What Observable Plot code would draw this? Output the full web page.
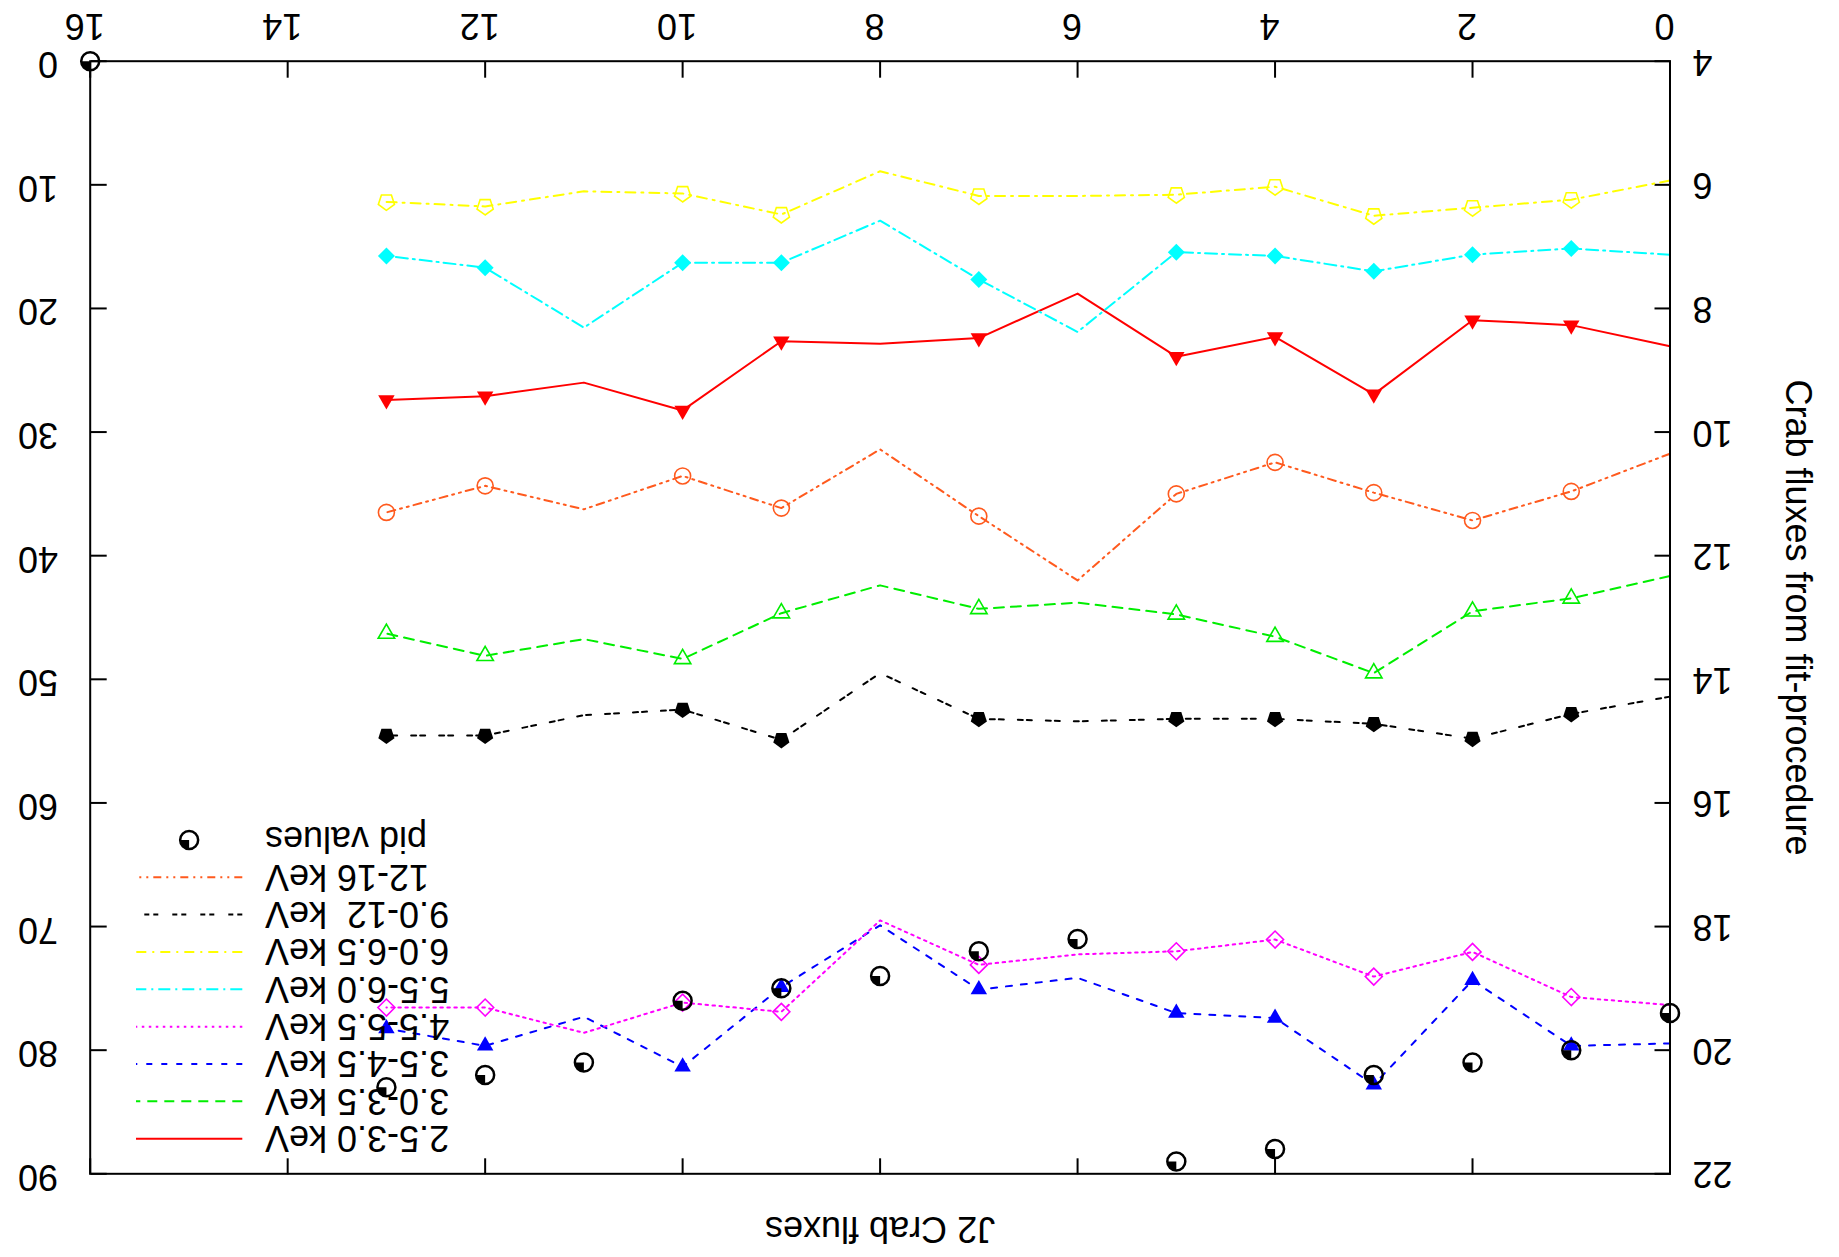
<!DOCTYPE html>
<html><head><meta charset="utf-8">
<script src="https://cdn.jsdelivr.net/npm/d3@7"></script>
<script src="https://cdn.jsdelivr.net/npm/@observablehq/plot@0.6"></script>
<style>
html,body{margin:0;padding:0;background:#fff;overflow:hidden;}
#wrap{width:1839px;height:1257px;transform:rotate(180deg);transform-origin:50% 50%;background:#fff;}
</style></head><body><div id="wrap"></div>
<script>
// ---------- data ----------
const xValues = [0,1,2,3,4,5,6,7,8,9,10,11,12,13];
const markedX = [1,2,3,4,5,7,9,10,12,13];
const flux_2_5_3_0 = [8.61,8.27,8.19,9.39,8.46,8.78,7.76,8.48,8.57,8.53,9.65,9.20,9.42,9.48];
const flux_3_0_3_5 = [12.33,12.69,12.90,13.90,13.31,12.95,12.76,12.86,12.48,12.93,13.67,13.35,13.62,13.26];
const flux_3_5_4_5 = [19.89,19.93,18.87,20.56,19.48,19.40,18.83,19.02,17.98,18.98,20.27,19.46,19.93,19.65];
const flux_4_5_5_5 = [19.27,19.14,18.41,18.81,18.21,18.40,18.45,18.62,17.90,19.38,19.23,19.72,19.31,19.31];
const flux_5_5_6_0 = [7.13,7.03,7.13,7.40,7.15,7.09,8.38,7.53,6.58,7.26,7.26,8.31,7.34,7.15];
const flux_6_0_6_5 = [5.93,6.24,6.37,6.50,6.03,6.16,6.18,6.18,5.78,6.48,6.14,6.105,6.35,6.276];
const flux_9_0_12 = [14.28,14.56,14.96,14.72,14.64,14.64,14.68,14.64,13.90,14.98,14.49,14.58,14.91,14.91];
const flux_12_16 = [10.35,10.96,11.43,10.98,10.49,11.00,12.40,11.36,10.28,11.23,10.71,11.25,10.87,11.30];
const pidX = [0,1,2,3,4,5,6,7,8,9,10,11,12,13,16];
const pidValues = [77,80,81,82,88,89,71,72,74,75,76,81,82,83,0];
const seriesLabels = ["2.5-3.0 keV","3.0-3.5 keV","3.5-4.5 keV","4.5-5.5 keV","5.5-6.0 keV","6.0-6.5 keV","9.0-12  keV","12-16 keV"];
const pidLabel = "pid values";
const xTicks = [0,2,4,6,8,10,12,14,16];
const y1Ticks = [4,6,8,10,12,14,16,18,20,22];
const y2Ticks = [0,10,20,30,40,50,60,70,80,90];
const X_DOMAIN = [0,16], Y1_DOMAIN = [4,22], Y2_DOMAIN = [0,90];
const y1Title = "Crab fluxes from fit-procedure";
const topTitle = "J2 Crab fluxes";

// ---------- symbols ----------
function poly(angles){
  return {draw(ctx, size){
    const R = Math.sqrt(size/Math.PI);
    angles.forEach((a,i)=>{const px=R*Math.cos(a), py=R*Math.sin(a); i?ctx.lineTo(px,py):ctx.moveTo(px,py);});
    ctx.closePath();
  }};
}
const deg = Math.PI/180;
const triUp = poly([-90,30,150].map(a=>a*deg));
const triDown = poly([90,210,330].map(a=>a*deg));
const pentagon = poly([-90,-18,54,126,198].map(a=>a*deg));
const diamond = poly([-90,0,90,180].map(a=>a*deg));
const quadrant = {draw(ctx,size){const R=Math.sqrt(size/Math.PI); ctx.moveTo(0,0); ctx.lineTo(0,-R); ctx.arc(0,0,R,-Math.PI/2,0,false); ctx.closePath();}};

// ---------- styles ----------
const seriesData = [flux_2_5_3_0,flux_3_0_3_5,flux_3_5_4_5,flux_4_5_5_5,flux_5_5_6_0,flux_6_0_6_5,flux_9_0_12,flux_12_16];
const styles = [
  {color:"#ff0000", dash:null,          symbol:triUp,    filled:true,  r:9.5},
  {color:"#00ee00", dash:"10,7",        symbol:triDown,  filled:false, r:9.5},
  {color:"#0000ff", dash:"6,9",         symbol:triDown,  filled:true,  r:9.5},
  {color:"#ff00ff", dash:"2.5,4.5",     symbol:diamond,  filled:false, r:8.5},
  {color:"#00ffff", dash:"12,5,2,5",    symbol:diamond,  filled:true,  r:8.5},
  {color:"#ffff00", dash:"10,6,2,6",    symbol:pentagon, filled:false, r:8.5},
  {color:"#000000", dash:"5,4,5,14",    symbol:pentagon, filled:true,  r:8.5},
  {color:"#ff5a1e", dash:"8,5,2,5,2,5", symbol:"circle", filled:false, r:8}
];

const W=1839, H=1257, mL=168.5, mR=90.7, mT=82.7, mB=61.7;
const toY1 = v => Y1_DOMAIN[0] + (v-Y2_DOMAIN[0])/(Y2_DOMAIN[1]-Y2_DOMAIN[0])*(Y1_DOMAIN[1]-Y1_DOMAIN[0]);
const innerW = W-mL-mR, innerH = H-mT-mB, TICK = 16, FS = 36;
const FONT = "'Liberation Sans', Arial, Helvetica, sans-serif";

const marks = [];
// ticks (inward)
marks.push(Plot.ruleX(xTicks, {x:d=>d, insetTop: innerH-TICK, stroke:"black", strokeWidth:2}));
marks.push(Plot.ruleX(xTicks, {x:d=>d, insetBottom: innerH-TICK, stroke:"black", strokeWidth:2}));
marks.push(Plot.ruleY(y1Ticks, {y:d=>d, insetRight: innerW-TICK, stroke:"black", strokeWidth:2}));
marks.push(Plot.ruleY(y2Ticks, {y:d=>toY1(d), insetLeft: innerW-TICK, stroke:"black", strokeWidth:2}));
// series
seriesData.forEach((vals, k) => {
  const s = styles[k];
  marks.push(Plot.line(xValues.map((x,i)=>({x, y:vals[i]})), {x:"x", y:"y", stroke:s.color, strokeWidth:2, strokeDasharray:s.dash || undefined}));
  marks.push(Plot.dot(markedX.map(x=>({x, y:vals[xValues.indexOf(x)]})), {x:"x", y:"y", symbol:s.symbol, r:s.r,
    fill: s.filled ? s.color : "none", stroke: s.filled ? "none" : s.color, strokeWidth: 1.6}));
});
// pid values
const pidRows = pidX.map((x,i)=>({x, y: toY1(pidValues[i])}));
marks.push(Plot.dot(pidRows, {x:"x", y:"y", symbol:quadrant, r:9, fill:"black"}));
marks.push(Plot.dot(pidRows, {x:"x", y:"y", symbol:"circle", r:9, fill:"none", stroke:"black", strokeWidth:2.5}));
// frame
marks.push(Plot.frame({stroke:"black", strokeWidth:2}));
// tick labels
marks.push(Plot.text(xTicks, {x:d=>d, text:d=>String(d), frameAnchor:"bottom", dy:35.7, dx:5.5, lineAnchor:"middle", fontSize:FS, fill:"black"}));
marks.push(Plot.text(y1Ticks, {y:d=>d, text:d=>String(d), frameAnchor:"left", dx:-22.5, textAnchor:"end", lineAnchor:"middle", fontSize:FS, fill:"black"}));
marks.push(Plot.text(y2Ticks, {y:d=>toY1(d), text:d=>String(d), frameAnchor:"right", dx:32.2, dy:-2.5, textAnchor:"start", lineAnchor:"middle", fontSize:FS, fill:"black"}));
// titles
marks.push(Plot.text([y1Title], {text:d=>d, frameAnchor:"left", dx:-127.5, rotate:-90, textAnchor:"middle", lineAnchor:"middle", fontSize:FS, fill:"black"}));
marks.push(Plot.text([topTitle], {text:d=>d, frameAnchor:"top", dy:-55.2, textAnchor:"middle", lineAnchor:"middle", fontSize:FS, fill:"black"}));
// legend
marks.push((index, scales, values, dims) => {
  const g = d3.create("svg:g").attr("font-family", FONT).attr("font-size", FS);
  const right = dims.width - dims.marginRight, top = dims.marginTop;
  const rowY = i => top + 35.6 + i*37.35;
  const sx0 = right - 151.6, sx1 = right - 45.3, tx = right - 174.3;
  seriesLabels.forEach((lab, i) => {
    const s = styles[i], y = rowY(i);
    g.append("line").attr("x1", sx0).attr("x2", sx1).attr("y1", y).attr("y2", y)
      .attr("stroke", s.color).attr("stroke-width", 2).attr("stroke-dasharray", s.dash);
    g.append("text").attr("x", tx).attr("y", y).attr("dy", "0.35em").attr("text-anchor", "end")
      .attr("xml:space", "preserve").style("white-space", "pre").text(lab);
  });
  const py = rowY(seriesLabels.length), px = (sx0+sx1)/2;
  g.append("path").attr("transform", `translate(${px},${py})`).attr("d", d3.symbol(quadrant, Math.PI*81)()).attr("fill","black");
  g.append("circle").attr("cx", px).attr("cy", py).attr("r", 9).attr("fill","none").attr("stroke","black").attr("stroke-width",2.5);
  g.append("text").attr("x", tx).attr("y", py).attr("dy", "0.35em").attr("text-anchor", "end").text(pidLabel);
  return g.node();
});

const chart = Plot.plot({
  width: W, height: H,
  marginLeft: mL, marginRight: mR, marginTop: mT, marginBottom: mB,
  x: {domain: X_DOMAIN, axis: null},
  y: {domain: Y1_DOMAIN, axis: null},
  style: {fontFamily: FONT, fontSize: FS + "px", background: "#fff", color: "black"},
  marks
});
document.getElementById("wrap").appendChild(chart);
</script>
</body></html>
